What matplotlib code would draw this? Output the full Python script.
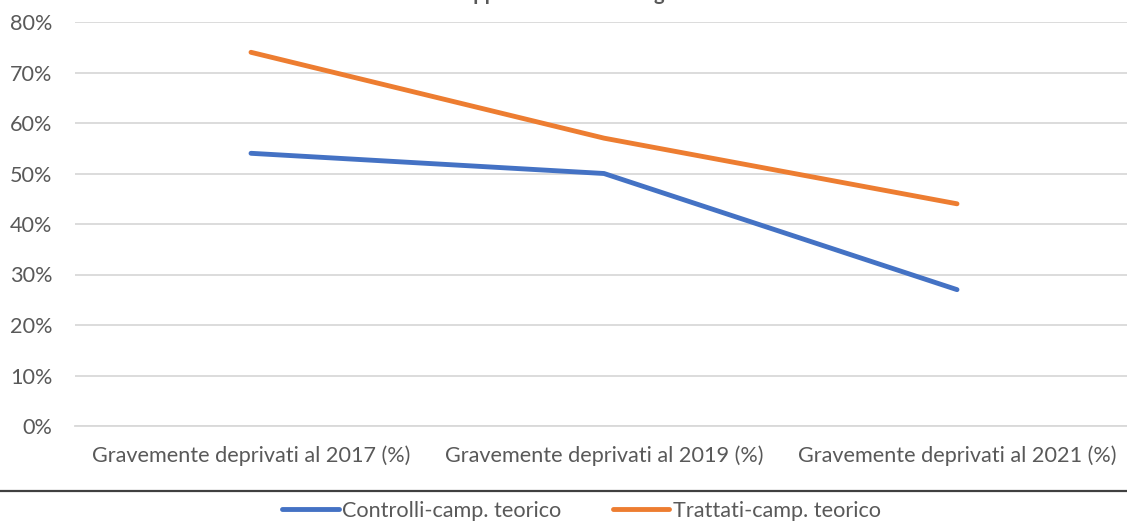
import matplotlib
matplotlib.use('Agg')
import matplotlib.pyplot as plt
from matplotlib.lines import Line2D

plt.rcParams['font.family'] = ['Lato', 'DejaVu Sans']

# data
categories = ['Gravemente deprivati al 2017 (%)',
              'Gravemente deprivati al 2019 (%)',
              'Gravemente deprivati al 2021 (%)']
controlli = [0.54, 0.50, 0.27]
trattati = [0.74, 0.57, 0.44]
yticks = [0, 0.1, 0.2, 0.3, 0.4, 0.5, 0.6, 0.7, 0.8]
title = 'Sviluppo a confronto dei gravi'

blue = '#4472C4'
orange = '#ED7D31'
grey = '#595959'
fs = 15.6

W, H = 1127, 521
fig = plt.figure(figsize=(W / 100, H / 100), dpi=100)
ax = fig.add_axes([74.5 / W, 95 / H, 1059 / W, 404 / H])

x = list(range(len(categories)))
ax.plot(x, controlli, color=blue, lw=3.5, solid_capstyle='round')
ax.plot(x, trattati, color=orange, lw=3.5, solid_capstyle='round')

ax.set_xlim(-0.5, 2.5)
ax.set_ylim(0, 0.8)
ax.set_yticks(yticks)
ax.set_yticklabels(['%d%%' % round(v * 100) for v in yticks])
ax.set_xticks(x)
ax.set_xticklabels(categories)
ax.yaxis.grid(True, color='#D9D9D9', lw=1.3)
ax.set_axisbelow(True)
for s in ax.spines.values():
    s.set_visible(False)
ax.spines['bottom'].set_visible(True)
ax.spines['bottom'].set_color('#D9D9D9')
ax.spines['bottom'].set_linewidth(1.3)
ax.tick_params(length=0, colors=grey, labelsize=fs)
ax.tick_params(axis='y', pad=16)
ax.tick_params(axis='x', pad=14)

# separator line above the legend
fig.add_artist(Line2D([0, 1], [1 - 490.5 / H, 1 - 490.5 / H],
                      transform=fig.transFigure, color='#404040', lw=1.6))

handles = [Line2D([], [], color=blue, lw=3.5, solid_capstyle='round'),
           Line2D([], [], color=orange, lw=3.5, solid_capstyle='round')]
fig.legend(handles, ['Controlli-camp. teorico', 'Trattati-camp. teorico'],
           loc='center', bbox_to_anchor=(0.516, 1 - 511 / H), ncol=2,
           frameon=False, fontsize=fs, handlelength=2.6, handletextpad=0.15,
           columnspacing=2.4, labelcolor=grey, borderaxespad=0)

# title mostly cut off at the top edge, as in the original
r = fig.canvas.get_renderer()
probe = fig.text(0, 0, 'Svilu', fontsize=14.5, fontweight='bold')
wpre = probe.get_window_extent(r).width
probe.remove()
fig.text((473 - wpre) / W, 1 - 0.5 / H, title, fontsize=14.5,
         fontweight='bold', color=grey, va='baseline', ha='left')

fig.savefig('out.png', dpi=100)
